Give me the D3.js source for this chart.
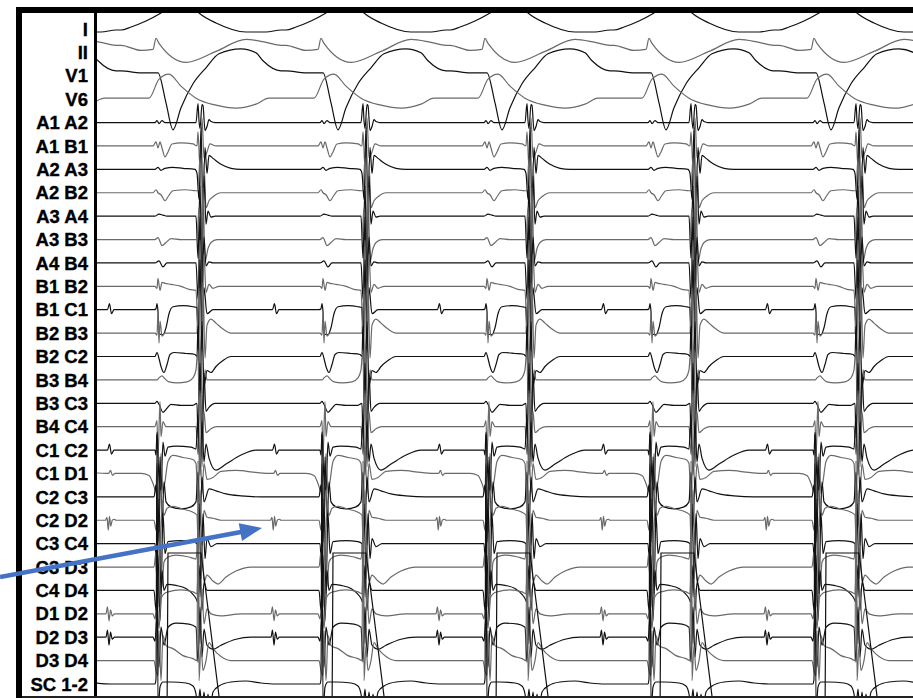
<!DOCTYPE html>
<html>
<head>
<meta charset="utf-8">
<script src="https://cdnjs.cloudflare.com/ajax/libs/d3/7.8.5/d3.min.js"></script>
<style>
  body { margin: 0; background: #fff; }
  .lbl { font-family: Arial, "Liberation Sans", sans-serif; font-weight: bold; font-size: 18.5px; fill: #000; stroke: #000; stroke-width: 0.35px; }
</style>
</head>
<body>
<svg width="913" height="698"></svg>
<script>
// channel names, top to bottom
var labels = ["I", "II", "V1", "V6", "A1 A2", "A1 B1", "A2 A3", "A2 B2", "A3 A4", "A3 B3", "A4 B4",
  "B1 B2", "B1 C1", "B2 B3", "B2 C2", "B3 B4", "B3 C3", "B4 C4", "C1 C2", "C1 D1", "C2 C3", "C2 D2",
  "C3 C4", "C3 D3", "C4 D4", "D1 D2", "D2 D3", "D3 D4", "SC 1-2"];

// ventricular activation times (ms)
var beats = [-240, 420, 1080, 1736, 2392, 3052];

// per-channel complex around each beat: [ms from beat, mV]
var tI = [[-320,-.1],[-280,.2],[-220,.8],[-160,1.6],[-100,2.6],[-48,2.6],[-8,1.6],[60,.6],[180,-.3],[260,-.3],[320,-.1]];
var tII = [[-320,.7],[-240,.2],[-192,.3],[-180,1.4],[-168,.9],[-60,-1.0],[60,.1],[180,1.3],[260,1.0],[320,.7]];
var tV1 = [[-320,.5],[-240,.3],[-172,.3],[-140,-2.7],[-112,-5.4],[-80,-3.2],[-32,-.8],[20,.8],[72,2.2],[160,2.7],[220,2.3],[248,1.5],[320,.5]];
var tV6 = [[-320,.1],[-208,.1],[-168,2.0],[-128,2.5],[-80,1.3],[-20,.1],[60,-.6],[140,-.9],[220,-.5],[272,.1],[320,.1]];

var tA1A2 = [[-240,0],[-184,0],[-176,.2],[-168,-.1],[-156,.2],[-144,0],[-20,0],[-12,1.9],[-8,.2],[-4,-.6],[4,1.8],[8,1.7],[16,-.8],[24,-.4],[32,.3],[40,.1],[56,0]];
var tA1B1 = [[-192,0],[-180,.4],[-172,-.2],[-164,.4],[-156,-.2],[-144,-1.1],[-132,-.6],[-116,.2],[-80,.3],[-32,.2],[-16,0],[-12,1.4],[-4,-2.2],[4,2.8],[12,-1.2],[24,-.6],[36,.2],[60,0]];
var tA2A3 = [[-184,0],[-172,.2],[-160,-.1],[-144,.1],[-112,.2],[-72,.1],[-24,0],[-16,-.4],[-8,-3.0],[0,4.2],[8,-4.5],[16,2.2],[24,-.4],[32,1.4],[48,1.1],[80,.5],[120,.1],[160,0]];
var tA2B2 = [[-192,0],[-180,.3],[-172,0],[-160,-.2],[-144,-.8],[-132,-.4],[-112,.2],[-60,.3],[-20,.2],[-12,.2],[-4,3.5],[4,-5.2],[12,3.0],[20,-1.5],[32,-.8],[48,-.4],[80,0]];
var tA3A4 = [[-184,0],[-168,.2],[-152,.1],[-136,0],[-20,0],[-12,-4.2],[-4,3.0],[4,-6.2],[12,4.0],[20,-.8],[28,.5],[40,-.1],[56,0]];
var tA3B3 = [[-184,0],[-172,.2],[-156,-.6],[-140,-.3],[-120,.1],[-80,0],[-16,0],[-8,3.2],[0,-4.8],[8,5.2],[16,-2.2],[28,-.9],[40,-.3],[64,0]];
var tA4B4 = [[-184,0],[-168,.2],[-152,-.4],[-136,0],[-20,0],[-12,-3.6],[-4,4.6],[4,-3.0],[12,2.6],[20,-.3],[32,.1],[48,0]];

var tB1B2 = [[-184,0],[-176,-.2],[-172,.8],[-164,-.4],[-156,.4],[-144,.3],[-120,.2],[-80,0],[-48,-.3],[-20,-.4],[-12,-4.2],[-4,4.6],[4,-3.6],[12,3.2],[20,-.6],[32,.2],[48,-.2],[72,0]];
var tB1C1 = [[-188,0],[-180,.1],[-176,.6],[-172,-.2],[-168,-2.4],[-152,-2.5],[-140,-1.8],[-128,-.4],[-112,.3],[-72,.4],[-32,.3],[-16,.2],[-12,-4.0],[-4,5.0],[4,-4.2],[12,2.2],[24,-.4],[48,0],[286,0],[294,.6],[302,-.4],[312,0]];
var tB2B3 = [[-184,0],[-176,-.2],[-172,2.0],[-168,-1.0],[-164,1.2],[-156,-.3],[-144,0],[-16,0],[-8,4.5],[0,-6.0],[8,5.0],[16,-2.5],[24,.8],[40,1.4],[60,1.0],[88,.4],[120,0]];
var tB2C2 = [[-184,0],[-176,.4],[-168,-.2],[-160,-1.0],[-148,-1.6],[-136,-.8],[-124,.2],[-108,.4],[-60,.3],[-24,.2],[-16,0],[-12,3.0],[-4,-4.0],[4,3.5],[12,-3.0],[24,-1.4],[40,-1.6],[60,-1.0],[88,-.4],[120,0]];
var tB3B4 = [[-176,0],[-168,.2],[-156,.4],[-144,.1],[-128,-.2],[-96,-.3],[-56,-.2],[-32,.2],[-20,1.0],[-16,2.2],[-12,2.6],[-8,-2.0],[0,3.0],[8,-3.5],[16,1.0],[24,0],[48,0]];
var tB3C3 = [[-184,0],[-176,.2],[-168,-.1],[-152,-.9],[-136,-.5],[-120,-.1],[-80,-.2],[-32,-.2],[-16,0],[-12,-3.5],[-4,4.0],[4,-4.5],[12,3.0],[20,-.8],[32,-.4],[56,0]];
var tB4C4 = [[-184,0],[-176,.6],[-172,-3.0],[-164,2.5],[-160,-1.0],[-152,.5],[-140,0],[-20,0],[-12,-2.8],[-4,3.6],[4,-4.0],[12,1.5],[20,-.6],[40,-.2],[64,0]];

var tC1C2 = [[-200,0],[-184,0],[-180,-.5],[-176,1.8],[-168,-3.0],[-160,-4.0],[-152,.8],[-144,-.6],[-132,.3],[-100,.4],[-40,.3],[-20,.1],[-12,3.5],[-4,-2.5],[4,2.8],[12,-1.2],[20,.6],[32,-.8],[60,-2.0],[100,-1.4],[160,-.5],[220,0],[286,0],[294,.6],[302,-.4],[312,0]];
var tC1D1 = [[-240,0],[-208,-.2],[-192,-1.0],[-180,-1.8],[-176,1.0],[-168,-3.5],[-160,2.0],[-152,-2.0],[-144,-.8],[-132,1.2],[-112,1.8],[-72,1.6],[-32,1.4],[-20,1.0],[-12,-3.0],[-4,2.5],[4,-2.0],[12,1.0],[24,-.6],[48,-.4],[80,.2],[140,.3],[220,.1],[280,0],[290,0],[298,.3],[306,-.2],[316,0]];
var tC2C3 = [[-220,0],[-188,0],[-180,1.2],[-172,-4.5],[-164,4.0],[-156,-3.0],[-148,1.5],[-140,-.5],[-120,-1.0],[-80,-1.2],[-40,-1.0],[-20,-.5],[-12,2.5],[-4,-3.0],[4,2.0],[12,-.5],[32,.8],[60,.6],[100,.3],[160,.1],[240,0]];
var tC2D2 = [[-220,0],[-188,0],[-180,-1.0],[-172,3.0],[-164,-4.0],[-156,2.0],[-148,.5],[-136,1.2],[-112,1.4],[-72,1.1],[-32,.8],[-16,.5],[-12,-2.0],[-4,3.0],[4,-2.5],[12,1.0],[24,.3],[48,.2],[80,0],[278,0],[284,.3],[289,-1.0],[294,.4],[299,-.6],[305,0],[314,.1],[320,0]];
var tC3C4 = [[-220,0],[-184,0],[-176,-3.5],[-168,4.5],[-160,-5.0],[-152,3.0],[-144,-1.0],[-132,.2],[-80,.3],[-32,.2],[-16,0],[-12,-2.0],[-8,4.0],[0,-3.5],[8,3.0],[16,-1.5],[24,.5],[40,-.3],[64,0]];
var tC3D3 = [[-220,0],[-188,0],[-180,1.5],[-172,-4.0],[-164,3.5],[-156,-2.0],[-148,.5],[-132,1.0],[-100,1.2],[-48,1.0],[-20,.8],[-12,2.5],[-4,-3.0],[4,2.0],[12,-1.5],[24,-.8],[48,-1.4],[68,-1.7],[100,-1.0],[140,-.4],[200,0]];
var tC4D4 = [[-220,0],[-188,0],[-180,-2.0],[-172,3.5],[-164,-3.0],[-156,2.0],[-148,0],[-136,.6],[-100,.5],[-60,.2],[-32,-.4],[-20,-.8],[-12,-1.2],[-4,2.5],[4,-2.0],[12,.8],[24,0],[48,0]];

var tD1D2 = [[-220,0],[-192,0],[-184,-.5],[-176,1.0],[-168,-1.5],[-160,1.5],[-148,2.0],[-132,2.2],[-80,2.4],[-32,2.2],[-16,2.0],[-12,4.0],[-4,-3.0],[4,2.5],[12,-1.0],[24,.5],[40,0],[80,-.2],[160,0],[280,0],[286,.7],[292,-.7],[298,.4],[305,-.2],[314,0]];
var tD2D3 = [[-220,0],[-192,0],[-184,-.4],[-176,2.0],[-168,-3.0],[-160,1.0],[-148,-.8],[-132,1.0],[-100,1.4],[-48,1.3],[-20,1.0],[-12,-2.5],[-4,3.0],[4,-2.0],[12,.8],[24,-.8],[48,-1.2],[80,-.8],[140,-.2],[200,0],[280,0],[286,.7],[292,-.8],[298,.5],[305,-.2],[314,0]];
var tD3D4 = [[-220,0],[-188,0],[-180,-1.0],[-172,-1.5],[-168,3.0],[-160,-2.0],[-152,2.5],[-140,1.5],[-112,1.2],[-72,.5],[-32,.2],[-16,0],[-12,20.0],[-8,-2.0],[0,1.5],[8,-1.0],[20,0],[32,1.8],[48,1.2],[80,.4],[120,0]];
var tSC = [[-220,0],[-184,0],[-180,.5],[-176,25.0],[-172,-3.0],[-164,-.3],[-152,.2],[-120,.2],[-60,.1],[-32,-.2],[-20,-1.0],[-12,-2.5],[-4,-.5],[4,-3.0],[12,-.8],[20,-2.8],[28,-1.0],[36,-2.5],[48,-.8],[72,-.2],[120,.2],[180,.3],[240,.1],[300,0]];

// pacing stimulus channel (baseline below the window)
var tStim = [[-136,0],[-132,16.7],[0,16.7],[84,0]];

var waves = [tI, tII, tV1, tV6, tA1A2, tA1B1, tA2A3, tA2B2, tA3A4, tA3B3, tA4B4,
  tB1B2, tB1C1, tB2B3, tB2C2, tB3B4, tB3C3, tB4C4, tC1C2, tC1D1, tC2C3, tC2D2,
  tC3C4, tC3D3, tC4D4, tD1D2, tD2D3, tD3D4, tSC];

var svg = d3.select("svg"),
    width = +svg.attr("width"),
    height = +svg.attr("height");

var plotL = 97, plotT = 13, plotB = 696;

var x = d3.scaleLinear().domain([0, 3268]).range([96, 913]);
var row = d3.scalePoint().domain(labels).range([29, 684]);
var gain = d3.scaleLinear().domain([0, 1]).range([0, 10]);

svg.append("defs").append("clipPath").attr("id", "plot")
  .append("rect").attr("x", plotL).attr("y", plotT)
  .attr("width", width - plotL).attr("height", plotB - plotT);

function points(tpl) {
  var pts = [[-1000, 0]];
  beats.forEach(function(b) {
    tpl.forEach(function(p) { pts.push([b + p[0], p[1]]); });
  });
  pts.push([4300, 0]);
  pts.sort(function(a, b) { return a[0] - b[0]; });
  return pts;
}

var traces = svg.append("g").attr("clip-path", "url(#plot)");

waves.forEach(function(tpl, i) {
  var base = row(labels[i]);
  var line = d3.line()
    .x(function(d) { return x(d[0]); })
    .y(function(d) { return base - gain(d[1]); })
    .curve(d3.curveMonotoneX);
  traces.append("path")
    .attr("d", line(points(tpl)))
    .attr("fill", "none")
    .attr("stroke", i % 2 ? "#6a6a6a" : "#111")
    .attr("stroke-width", 1.2)
    .attr("stroke-linejoin", "round");
});

var stimBase = row(labels[labels.length - 1]) + 36;
traces.append("path")
  .attr("d", d3.line()
    .x(function(d) { return x(d[0]); })
    .y(function(d) { return stimBase - gain(d[1]); })(points(tStim)))
  .attr("fill", "none")
  .attr("stroke", "#111")
  .attr("stroke-width", 1.2);

// frame
svg.append("rect").attr("x", 16).attr("y", 7).attr("width", width - 16).attr("height", 6).attr("fill", "#000");
svg.append("rect").attr("x", 16).attr("y", 7).attr("width", 6).attr("height", height - 7).attr("fill", "#000");
svg.append("rect").attr("x", 94).attr("y", 13).attr("width", 3).attr("height", height - 13).attr("fill", "#000");
svg.append("line").attr("x1", 22).attr("x2", width).attr("y1", plotB + 1).attr("y2", plotB + 1)
  .attr("stroke", "#222").attr("stroke-width", 2);

svg.selectAll(".lbl").data(labels).enter().append("text")
  .attr("class", "lbl")
  .attr("x", 88)
  .attr("y", function(d) { return row(d); })
  .attr("dy", "0.36em")
  .attr("text-anchor", "end")
  .text(function(d) { return d; });

// annotation arrow
var a0 = [0, 577], a1 = [262, 528];
var ang = Math.atan2(a1[1] - a0[1], a1[0] - a0[0]);
var headL = 22, headW = 9;
var bx = a1[0] - headL * Math.cos(ang), by = a1[1] - headL * Math.sin(ang);
svg.append("line")
  .attr("x1", a0[0]).attr("y1", a0[1]).attr("x2", bx + 2 * Math.cos(ang)).attr("y2", by + 2 * Math.sin(ang))
  .attr("stroke", "#4472C4").attr("stroke-width", 4.5);
svg.append("polygon")
  .attr("points", [
    [a1[0], a1[1]],
    [bx - headW * Math.sin(ang), by + headW * Math.cos(ang)],
    [bx + headW * Math.sin(ang), by - headW * Math.cos(ang)]
  ].map(function(p) { return p.join(","); }).join(" "))
  .attr("fill", "#4472C4");
</script>
</body>
</html>
